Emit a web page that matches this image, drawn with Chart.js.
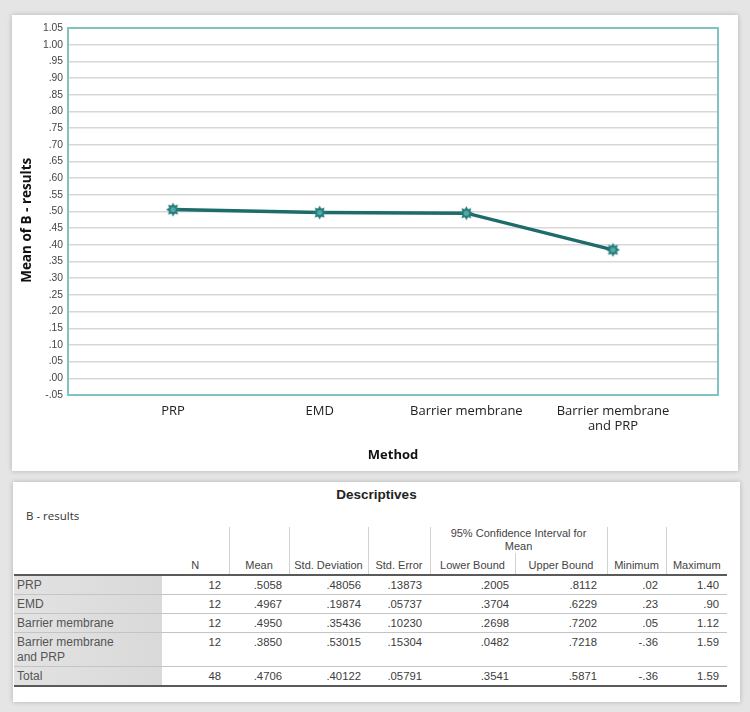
<!DOCTYPE html>
<html>
<head>
<meta charset="utf-8">
<script src="https://cdn.jsdelivr.net/npm/chart.js@4"></script>
<style>
  html, body { margin:0; padding:0; }
  body { width:750px; height:712px; background:#e5e5e5; position:relative; overflow:hidden; font-family:"Liberation Sans", Arial, sans-serif; }
  .card { position:absolute; background:#fff; box-shadow:0 0 5px rgba(0,0,0,0.22); }
  #card1 { left:12px; top:15px; width:726px; height:456px; }
  #card2 { left:13px; top:482px; width:727px; height:220px; }
  #chart { position:absolute; left:0; top:0; }
  .ttl { position:absolute; left:0; top:5px; width:100%; text-align:center; font:bold 13.5px "Liberation Sans", Arial, sans-serif; color:#222; line-height:16px; }
  .sub { position:absolute; left:13px; top:26px; font:11.5px "Open Sans", sans-serif; color:#333; line-height:16px; }
  table { position:absolute; left:1px; top:45px; border-collapse:collapse; table-layout:fixed; width:713px; font:11px "Liberation Sans", Arial, sans-serif; color:#3c3c3c; }
  th { font-weight:normal; vertical-align:bottom; text-align:center; padding:0 2px 2px 2px; line-height:13px; color:#444; }
  th.vl { border-left:1px solid #d2d2d2; }
  thead tr.h2 th { height:19px; }
  thead tr.h1 th { height:26px; }
  thead { border-bottom:2px solid #5a5a5a; }
  tbody td { vertical-align:top; text-align:right; padding:2px 7px 1px 2px; line-height:15px; border-bottom:1px solid #c4c4c4; font-size:11.3px; }
  tbody td.lab { text-align:left; padding-left:3px; font-size:12px; color:#555; background:linear-gradient(to right, #e2e2e2, #d9d9d9); }
  tbody tr.last td { border-bottom:2px solid #5a5a5a; }
</style>
</head>
<body>
<div class="card" id="card1"><canvas id="chart" width="726" height="456"></canvas></div>
<div class="card" id="card2">
  <div class="ttl">Descriptives</div>
  <div class="sub">B - results</div>
  <table id="desc">
    <colgroup>
      <col style="width:148px"><col style="width:67px"><col style="width:60px"><col style="width:79px"><col style="width:62px"><col style="width:85px"><col style="width:92px"><col style="width:59px"><col style="width:61px">
    </colgroup>
    <thead id="thead"></thead>
    <tbody id="tbody"></tbody>
  </table>
</div>
<script>
// ---------- data ----------
const categories = ['PRP', 'EMD', 'Barrier membrane', ['Barrier membrane', 'and PRP']];
const means = [0.5058, 0.4967, 0.4950, 0.3850];
const yTickValues = [-0.05, 0.00, 0.05, 0.10, 0.15, 0.20, 0.25, 0.30, 0.35, 0.40, 0.45, 0.50, 0.55, 0.60, 0.65, 0.70, 0.75, 0.80, 0.85, 0.90, 0.95, 1.00, 1.05];
const yTickLabels = ['-.05', '.00', '.05', '.10', '.15', '.20', '.25', '.30', '.35', '.40', '.45', '.50', '.55', '.60', '.65', '.70', '.75', '.80', '.85', '.90', '.95', '1.00', '1.05'];
const yTitle = 'Mean of B - results';
const xTitle = 'Method';

// table data
const tableTitle = 'Descriptives';
const rowLabels = ['PRP', 'EMD', 'Barrier membrane', 'Barrier membrane<br>and PRP', 'Total'];
const colN = ['12', '12', '12', '12', '48'];
const colMean = ['.5058', '.4967', '.4950', '.3850', '.4706'];
const colSD = ['.48056', '.19874', '.35436', '.53015', '.40122'];
const colSE = ['.13873', '.05737', '.10230', '.15304', '.05791'];
const colLower = ['.2005', '.3704', '.2698', '.0482', '.3541'];
const colUpper = ['.8112', '.6229', '.7202', '.7218', '.5871'];
const colMin = ['.02', '.23', '.05', '-.36', '-.36'];
const colMax = ['1.40', '.90', '1.12', '1.59', '1.59'];

// ---------- table ----------
document.getElementById('thead').innerHTML =
  '<tr class="h1"><th rowspan="2"></th><th rowspan="2">N</th><th rowspan="2" class="vl">Mean</th>' +
  '<th rowspan="2" class="vl">Std. Deviation</th><th rowspan="2" class="vl">Std. Error</th>' +
  '<th colspan="2" class="vl" style="padding-bottom:0">95% Confidence Interval for<br>Mean</th>' +
  '<th rowspan="2" class="vl">Minimum</th><th rowspan="2" class="vl">Maximum</th></tr>' +
  '<tr class="h2"><th class="vl">Lower Bound</th><th class="vl">Upper Bound</th></tr>';
const padR = [8, 7, 7, 8, 6, 10, 8, 8];
let body = '';
rowLabels.forEach((lab, i) => {
  const vals = [colN[i], colMean[i], colSD[i], colSE[i], colLower[i], colUpper[i], colMin[i], colMax[i]];
  body += '<tr' + (i === rowLabels.length - 1 ? ' class="last"' : '') + '><td class="lab">' + lab + '</td>' +
    vals.map((v, j) => '<td style="padding-right:' + padR[j] + 'px">' + v + '</td>').join('') + '</tr>';
});
document.getElementById('tbody').innerHTML = body;

// ---------- chart ----------
function makeMarker() {
  const c = document.createElement('canvas');
  c.width = 15; c.height = 15;
  const g = c.getContext('2d');
  const cx = 7.5, cy = 7.5, n = 8;
  g.fillStyle = '#237c7a';
  g.beginPath();
  for (let i = 0; i < n * 2; i++) {
    const r = i % 2 === 0 ? 7 : 4.3;
    const a = i * Math.PI / n;
    g.lineTo(cx + r * Math.cos(a), cy + r * Math.sin(a));
  }
  g.closePath();
  g.fill();
  g.fillStyle = '#55a9a7';
  g.beginPath();
  g.arc(cx, cy, 2.6, 0, Math.PI * 2);
  g.fill();
  return c;
}

const plotBorder = {
  id: 'plotBorder',
  beforeDatasetsDraw(chart) {
    const { ctx, chartArea: a } = chart;
    ctx.save();
    ctx.strokeStyle = '#7fc3c2';
    ctx.lineWidth = 2;
    ctx.strokeRect(a.left, a.top, a.right - a.left, a.bottom - a.top);
    ctx.restore();
  }
};

const marker = makeMarker();
new Chart(document.getElementById('chart'), {
  type: 'line',
  data: {
    datasets: [{
      data: means.map((v, i) => ({ x: i, y: v })),
      borderColor: '#1d6c6a',
      borderWidth: 3.5,
      pointStyle: marker,
      pointRadius: 7,
      pointHoverRadius: 7,
      tension: 0,
      fill: false
    }]
  },
  options: {
    responsive: false,
    animation: false,
    devicePixelRatio: 1,
    layout: { padding: { top: 13, right: 20, left: 0, bottom: 0 } },
    plugins: { legend: { display: false }, tooltip: { enabled: false } },
    scales: {
      x: {
        type: 'linear',
        min: -0.716,
        max: 3.716,
        afterBuildTicks: (s) => { s.ticks = categories.map((c, i) => ({ value: i })); },
        afterFit: (s) => { s.height = 76; },
        grid: { display: false, drawTicks: false },
        border: { display: false },
        ticks: {
          autoSkip: false, maxRotation: 0, padding: 8,
          color: '#222',
          font: { family: '"Open Sans", sans-serif', size: 13 },
          callback: (v, i) => categories[i]
        },
        title: {
          display: true, text: xTitle, color: '#111',
          font: { family: '"Open Sans", sans-serif', size: 13, weight: 'bold' },
          padding: { top: 0, bottom: 8 }
        }
      },
      y: {
        min: -0.05,
        max: 1.05,
        afterBuildTicks: (s) => { s.ticks = yTickValues.map(v => ({ value: v })); },
        afterFit: (s) => { s.width = 56; },
        grid: { color: '#d7d7d7', lineWidth: 1.5, drawTicks: false },
        border: { display: false },
        ticks: {
          padding: 5, color: '#444',
          font: { family: '"Liberation Sans", Arial, sans-serif', size: 10.3 },
          callback: (v, i) => yTickLabels[i]
        },
        title: {
          display: true, text: yTitle + '     ', color: '#111',
          font: { family: '"Open Sans", sans-serif', size: 13.5, weight: 'bold' },
          padding: { top: 7, bottom: 0 }
        }
      }
    }
  },
  plugins: [plotBorder]
});
</script>
</body>
</html>
